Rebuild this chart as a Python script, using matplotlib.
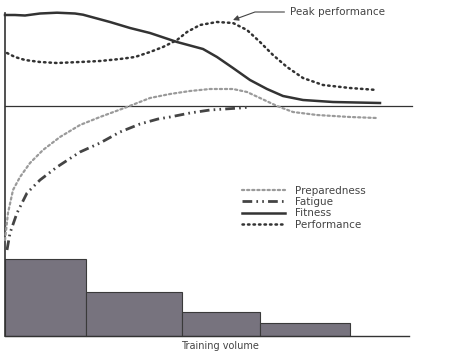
import matplotlib.pyplot as plt

# x = time, y = level relative to the zero line
fitness_x = [0, 10, 20, 35, 52, 70, 78, 105, 125, 145, 172, 198, 212, 228, 245, 262, 278, 298, 328, 375]
fitness_y = [91, 91, 90.5, 92.5, 93.3, 92.5, 91.3, 84, 78, 73, 64, 57, 49, 38, 26, 17, 10, 6, 4, 3]

perf_x = [2, 10, 20, 35, 52, 75, 95, 115, 130, 145, 158, 172, 182, 195, 212, 228,
          242, 255, 268, 282, 298, 318, 345, 372]
perf_y = [53, 49, 46, 44, 43, 44, 45, 47, 49, 54, 59, 66, 74, 81, 84, 83,
          76, 64, 51, 39, 28, 21, 18, 16]

prep_x = [0, 3, 8, 15, 25, 38, 55, 75, 95, 122, 145, 165, 185, 205, 228, 242,
          255, 272, 288, 312, 345, 372]
prep_y = [-134, -107, -84, -71, -57, -44, -31, -19, -11, -1, 8, 12, 15, 17, 17, 14,
          8, 0, -6, -9, -11, -12]

fat_x = [2, 5, 12, 22, 35, 52, 75, 95, 115, 135, 153, 165, 185, 205, 235, 245]
fat_y = [-144, -127, -107, -87, -74, -61, -46, -37, -26, -18, -13, -11, -7, -4, -2, -1]

bar_edges = [0, 81, 177, 255, 345]
bar_heights = [77, 44, 24, 13]
baseline = -230

fig = plt.figure(figsize=(4.74, 3.53), dpi=100)
ax = fig.add_axes([0, 0, 1, 1])
ax.set_xlim(-5, 469)
ax.set_ylim(-247, 106)
ax.axis('off')

ink = '#333333'

# bars
widths = [b - a for a, b in zip(bar_edges[:-1], bar_edges[1:])]
ax.bar(bar_edges[:-1], bar_heights, width=widths, bottom=baseline, align='edge',
       color='#77737e', edgecolor='#3a3a3a', linewidth=0.8)

# axes lines
ax.plot([0, 0], [baseline, 93], color=ink, lw=1.2)
ax.plot([0, 404], [baseline, baseline], color=ink, lw=1.0)
ax.plot([0, 407], [0, 0], color=ink, lw=0.9)

ax.plot(prep_x, prep_y, color='#9a9a9a', lw=1.6, linestyle=(0, (1, 1.3)),
        dash_capstyle='round', label='Preparedness')
ax.plot(fat_x, fat_y, color='#444444', lw=2.0, linestyle=(0, (3.5, 1.5, 0.6, 1.5, 0.6, 1.5)),
        label='Fatigue')
ax.plot(fitness_x, fitness_y, color=ink, lw=1.8, label='Fitness')
ax.plot(perf_x, perf_y, color=ink, lw=1.8, linestyle=(0, (0.6, 1.6)),
        dash_capstyle='round', label='Performance')

ax.legend(loc='upper left', bbox_to_anchor=(0.49, 0.50), frameon=False,
          fontsize=7.5, handlelength=4.2, handletextpad=0.9, labelspacing=0.12,
          labelcolor='#444444')

ax.annotate('Peak performance', xy=(228, 86), xytext=(285, 94),
            fontsize=7.5, color='#444444', va='center', ha='left',
            arrowprops=dict(arrowstyle='-|>', color='#444444', lw=0.8,
                            connectionstyle='angle,angleA=0,angleB=20,rad=0',
                            shrinkA=2, shrinkB=0, mutation_scale=8))

ax.text(215, -240, 'Training volume', fontsize=7, color='#444444', ha='center', va='center')

fig.savefig('out.png', dpi=100, facecolor='white')
